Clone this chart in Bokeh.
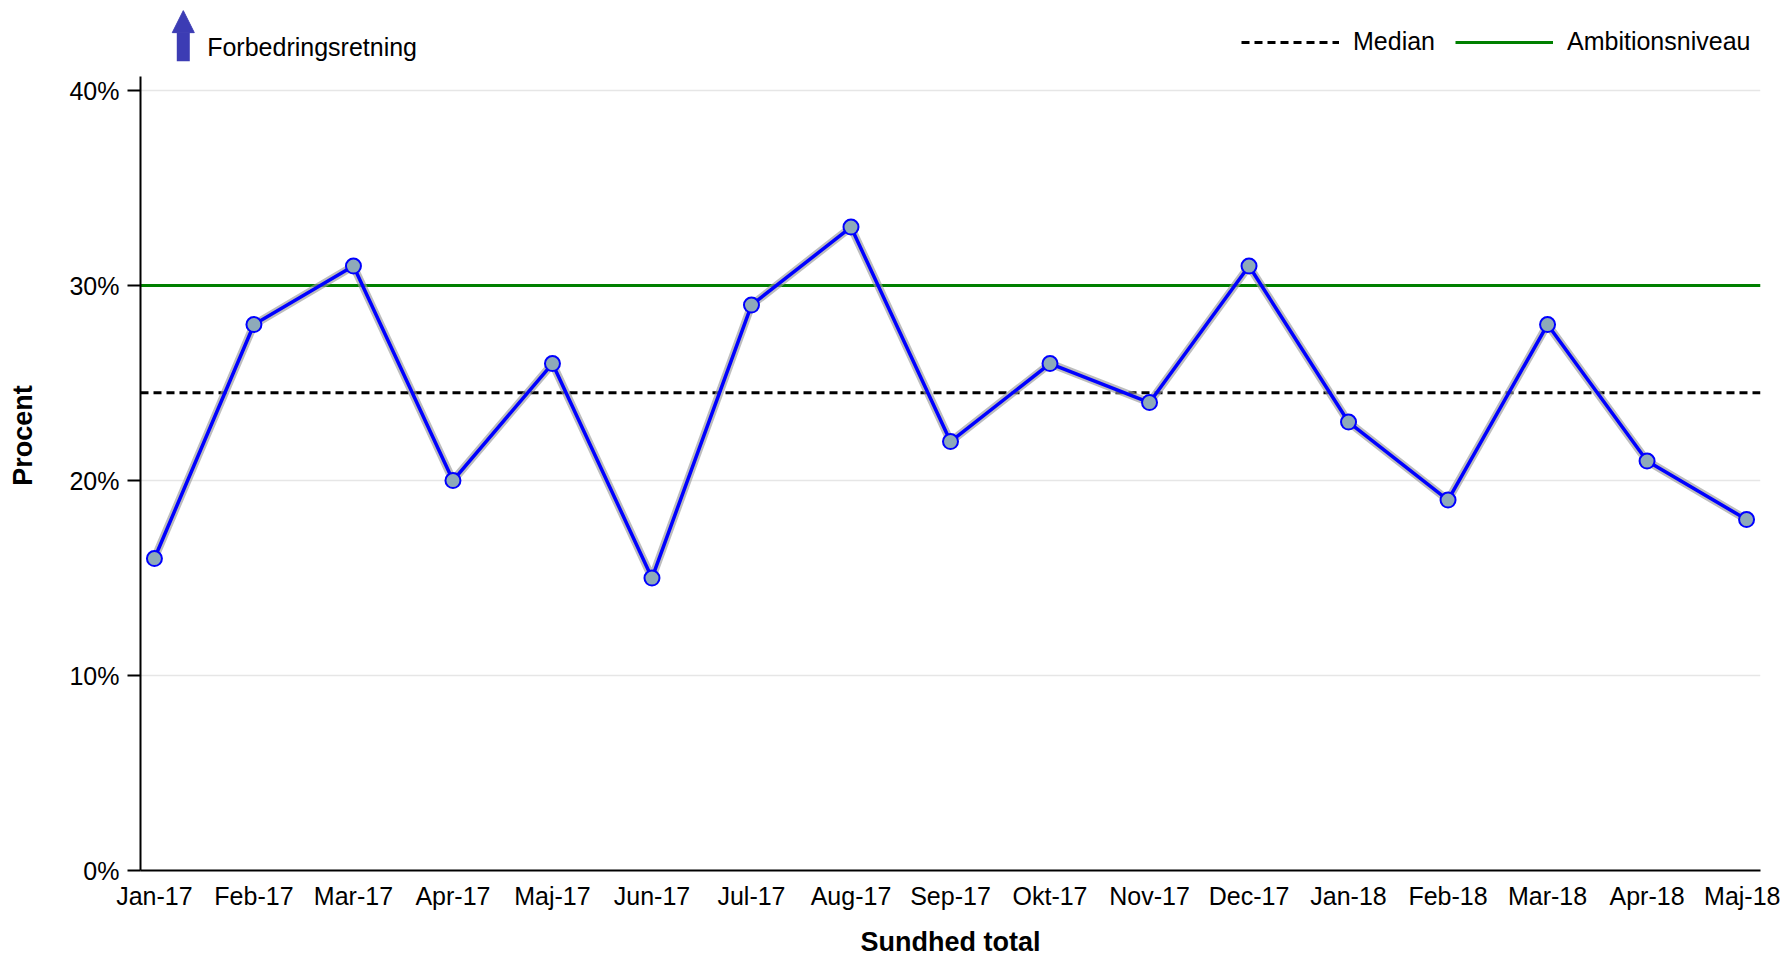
from bokeh.plotting import figure
from bokeh.models import (Range1d, FixedTicker, PrintfTickFormatter, Legend, LegendItem,
                          Arrow, NormalHead, Label)
from bokeh.embed import file_html
from bokeh.resources import INLINE

months = ["Jan-17", "Feb-17", "Mar-17", "Apr-17", "Maj-17", "Jun-17", "Jul-17", "Aug-17",
          "Sep-17", "Okt-17", "Nov-17", "Dec-17", "Jan-18", "Feb-18", "Mar-18", "Apr-18", "Maj-18"]
values = [16, 28, 31, 20, 26, 15, 29, 33, 22, 26, 24, 31, 23, 19, 28, 21, 18]
median_value = 24.5
ambition_value = 30
y_ticks = [0, 10, 20, 30, 40]

FONT = "Liberation Sans"
xs = list(range(len(months)))
x0, x1 = -0.14, len(months) - 1 + 0.14
y0, y_axis_top, y1 = 0, 40.72, 44.62

p = figure(width=1780, height=953, output_backend="svg", toolbar_location=None,
           x_range=Range1d(x0, x1), y_range=Range1d(y0, y1),
           min_border_left=140, min_border_right=20, min_border_top=0, min_border_bottom=83)
p.frame_width = 1620
p.frame_height = 870
p.outline_line_color = None
p.background_fill_color = "white"

# axes
p.xaxis.ticker = FixedTicker(ticks=xs)
p.xaxis.major_label_overrides = {i: m for i, m in enumerate(months)}
p.yaxis.ticker = FixedTicker(ticks=y_ticks)
p.yaxis.formatter = PrintfTickFormatter(format="%d%%")
p.yaxis.bounds = (y0, y_axis_top)
for ax in (p.xaxis[0], p.yaxis[0]):
    ax.axis_line_color = "black"
    ax.axis_line_width = 2
    ax.major_tick_line_color = "black"
    ax.major_tick_line_width = 2
    ax.minor_tick_line_color = None
    ax.major_label_text_font = FONT
    ax.major_label_text_font_size = "25px"
    ax.major_label_text_color = "black"
    ax.axis_label_text_font = FONT
    ax.axis_label_text_font_style = "bold"
    ax.axis_label_text_font_size = "27px"
    ax.axis_label_text_color = "black"
p.xaxis.major_tick_out = 0
p.xaxis.major_tick_in = 0
p.xaxis.major_label_standoff = 11
p.xaxis.axis_label = "Sundhed total"
p.xaxis.axis_label_standoff = 14
p.yaxis.major_tick_out = 13
p.yaxis.major_tick_in = 0
p.yaxis.major_label_standoff = 8
p.yaxis.axis_label = "Procent"
p.yaxis.axis_label_standoff = 28

p.xgrid.grid_line_color = None
p.ygrid.grid_line_color = "#E6E6E6"
p.ygrid.grid_line_width = 1.5

# reference lines
med = p.line([x0, x1], [median_value, median_value], line_color="black", line_width=3,
             line_dash="8 5")
amb = p.line([x0, x1], [ambition_value, ambition_value], line_color="#008000", line_width=3)

# data series with soft grey halo
p.line(xs, values, line_color="#9A9A9A", line_width=8, line_alpha=0.65)
p.line(xs, values, line_color="#0000FF", line_width=3.5)
p.scatter(xs, values, marker="circle", size=15, fill_color="#8EAAB9",
          line_color="#0000FF", line_width=2)

legend = Legend(items=[LegendItem(label="Median", renderers=[med]),
                       LegendItem(label="Ambitionsniveau", renderers=[amb])],
                location=(1101, 814), orientation="horizontal",
                glyph_width=98, glyph_height=26, label_standoff=14, spacing=20,
                padding=0, margin=0, border_line_color=None, background_fill_alpha=0,
                label_text_font=FONT, label_text_font_size="25px", label_text_color="black")
p.add_layout(legend)

# improvement direction arrow
p.add_layout(Arrow(x_start=0.29, y_start=41.5, x_end=0.29, y_end=44.1,
                   line_color="#3C3CB4", line_width=13,
                   end=NormalHead(size=22, fill_color="#3C3CB4", line_color="#3C3CB4", line_width=1)))
p.add_layout(Label(x=0.53, y=42.26, text="Forbedringsretning", text_baseline="middle",
                   text_font=FONT, text_font_size="25px", text_color="black"))

open("out.html", "w").write(file_html(p, INLINE))
